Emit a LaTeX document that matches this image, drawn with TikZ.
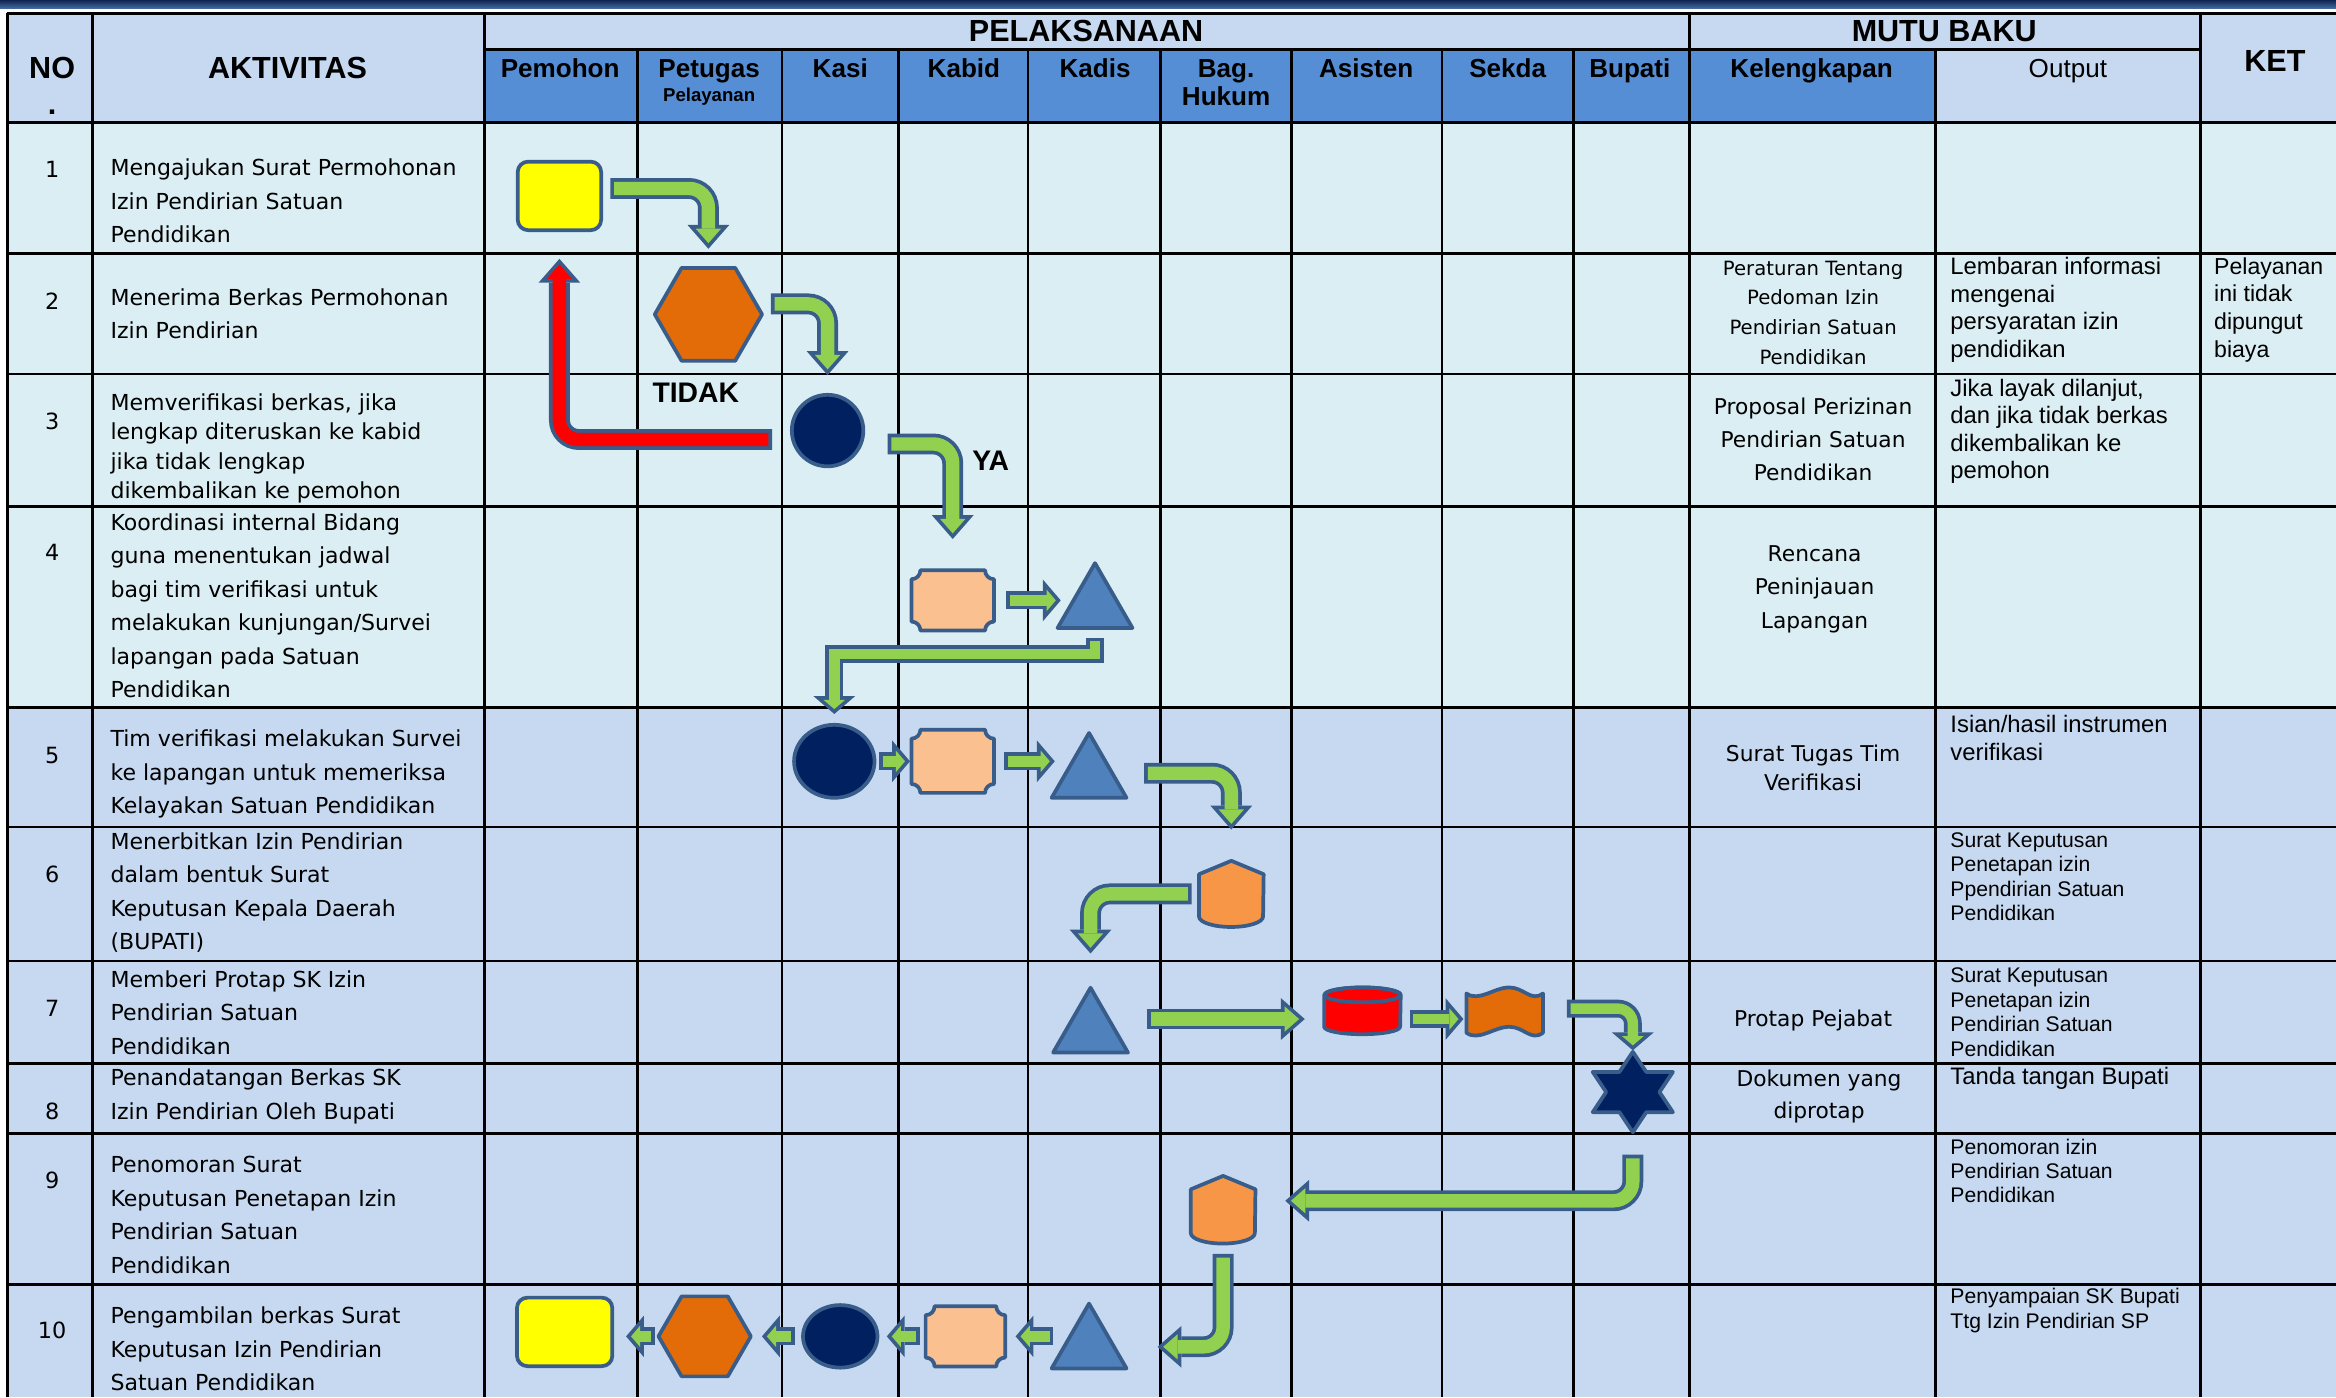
\documentclass[tikz,border=0pt]{standalone}
\usepackage{fontspec}
\setmainfont{DejaVu Sans}
\newfontfamily\arialfont{Liberation Sans}
\usetikzlibrary{shapes.geometric,arrows.meta,calc}

\definecolor{edgeblue}{HTML}{385D8A}
\definecolor{flowgreen}{HTML}{92D050}
\definecolor{docyellow}{HTML}{FFFF00}
\definecolor{darkorange}{HTML}{E36C09}
\definecolor{lightorange}{HTML}{F79646}
\definecolor{peach}{HTML}{FAC090}
\definecolor{navy}{HTML}{002060}
\definecolor{triblue}{HTML}{4F81BD}
\definecolor{hdrlight}{HTML}{C6D9F1}
\definecolor{hdrmid}{HTML}{558ED5}
\definecolor{rowcyan}{HTML}{DBEEF4}
\definecolor{rowblue}{HTML}{C6D9F1}
\definecolor{bandtop}{HTML}{0E2550}
\definecolor{bandbot}{HTML}{4A6FA5}

\tikzset{
  gridline/.style={line width=1.8pt, black},
  shp/.style={draw=edgeblue, line width=2.5pt, inner sep=0pt, line join=round},
  doc/.style={shp, rectangle, rounded corners=7pt, fill=docyellow},
  hexa/.style={shp, regular polygon, regular polygon sides=6, fill=darkorange},
  dot/.style={shp, ellipse, fill=navy},
  tri/.style={shp, regular polygon, regular polygon sides=3, fill=triblue, minimum size=58pt},
  shapebox/.style={rectangle, inner sep=0pt},
  bigflow out/.style={draw=edgeblue, line width=14pt, rounded corners=13pt,
    -{Triangle[length=16pt, width=28pt, line width=0pt]}},
  bigflow in/.style={line width=9pt, rounded corners=13pt, shorten <=2.5pt, shorten >=3.8pt,
    -{Triangle[length=9.7pt, width=17pt, line width=0pt]}},
  smallflow out/.style={draw=edgeblue, line width=12pt,
    -{Triangle[length=12pt, width=28pt, line width=0pt]}},
  smallflow in/.style={line width=7pt, shorten <=2.5pt, shorten >=3.3pt,
    -{Triangle[length=6.2pt, width=14.5pt, line width=0pt]}},
  hdr/.style={anchor=base, inner sep=0pt, font=\arialfont\bfseries\fontsize{20.5}{24}\selectfont},
  sub/.style={anchor=base, inner sep=0pt, font=\arialfont\bfseries\fontsize{17.5}{19}\selectfont},
  lbl/.style={anchor=base, inner sep=0pt, font=\arialfont\bfseries\fontsize{19}{22}\selectfont},
  num/.style={inner sep=0pt, font=\fontsize{15}{18}\selectfont},
  akt/.style={anchor=west, align=left, inner sep=0pt, font=\fontsize{14.8}{22.5}\selectfont},
  kel/.style={align=center, inner sep=0pt, font=\fontsize{14.6}{22}\selectfont},
  outp/.style={anchor=west, align=left, inner sep=0pt, font=\arialfont\fontsize{16}{18.7}\selectfont},
  outsmall/.style={outp, font=\arialfont\fontsize{14.2}{16.4}\selectfont}
}

% block arrow: outline first, then the fill
\newcommand{\flowarrow}[3][flowgreen]{%
  \draw[#2 out] #3;
  \draw[#2 in, draw=#1] #3;}

\newcommand{\plaque}[1]{%
  \draw[shp, fill=peach] ([xshift=6pt]#1.north west) -- ([xshift=-6pt]#1.north east)
    arc[start angle=180, end angle=270, radius=6pt] -- ([yshift=6pt]#1.south east)
    arc[start angle=90, end angle=180, radius=6pt] -- ([xshift=6pt]#1.south west)
    arc[start angle=0, end angle=90, radius=6pt] -- ([yshift=-6pt]#1.north west)
    arc[start angle=270, end angle=360, radius=6pt] -- cycle;}

\newcommand{\offpage}[1]{%
  \draw[shp, fill=lightorange] (#1.north) -- ([yshift=-9pt]#1.north west)
    -- ([yshift=7pt]#1.south west)
    arc[start angle=180, end angle=360, x radius=21.5pt, y radius=7pt]
    -- ([yshift=-9pt]#1.north east) -- cycle;}

\newcommand{\drum}[1]{%
  \draw[shp, fill=red] ([yshift=-5pt]#1.north west) -- ([yshift=5pt]#1.south west)
    arc[start angle=180, end angle=360, x radius=25.5pt, y radius=5pt]
    -- ([yshift=-5pt]#1.north east)
    arc[start angle=0, end angle=180, x radius=25.5pt, y radius=5pt] -- cycle;
  \draw[shp] ([yshift=-5pt]#1.north) ellipse[x radius=25.5pt, y radius=5pt];}

\newcommand{\tape}[1]{%
  \draw[shp, fill=darkorange] ([yshift=-4pt]#1.north west)
    .. controls +(8pt,-6pt) and +(-10pt,0pt) .. ([xshift=3pt]#1.north)
    .. controls +(10pt,0pt) and +(-8pt,-6pt) .. ([yshift=-4pt]#1.north east)
    -- ([yshift=4pt]#1.south east)
    .. controls +(-8pt,-6pt) and +(10pt,0pt) .. ([shift={(3pt,8pt)}]#1.south)
    .. controls +(-10pt,0pt) and +(8pt,-6pt) .. ([yshift=4pt]#1.south west) -- cycle;}

\newcommand{\hexstar}[1]{%
  \draw[shp, fill=navy, shift={(#1.center)}] (0pt,27pt) -- (-9pt,13.5pt) -- (-26.9pt,13.5pt)
    -- (-17.9pt,0pt) -- (-26.9pt,-13.5pt) -- (-9pt,-13.5pt) -- (0pt,-27pt) -- (9pt,-13.5pt)
    -- (26.9pt,-13.5pt) -- (17.9pt,0pt) -- (26.9pt,13.5pt) -- (9pt,13.5pt) -- cycle;}

\begin{document}
\begin{tikzpicture}[x=1pt, y=-1pt]
    \useasboundingbox (0,0) rectangle (1568,938);
    \fill[white] (0,0) rectangle (1568,938);

    % cell colours
    \shade[top color=bandtop, bottom color=bandbot] (0,0) rectangle (1568,6);
    \fill[hdrlight] (5,9) rectangle (1568,82);
    \fill[hdrmid] (325,33) rectangle (1299,82);
    \fill[rowcyan] (5,82) rectangle (1568,475);
    \fill[rowblue] (5,475) rectangle (1568,938);

    % table lines
    \foreach \y in {9,82,170,251,340,475,555,645,714,761,862}
        \draw[gridline] (5,\y) -- (1568,\y);
    \draw[gridline] (325,33) -- (1477,33);
    \foreach \x in {5,62,325,1134,1477}
        \draw[gridline] (\x,9) -- (\x,938);
    \foreach \x in {428,525,603,690,779,867,968,1056,1299}
        \draw[gridline] (\x,33) -- (\x,938);

    % header
    \node[hdr] (hno) at (35,53) {NO};
    \node[hdr] (hdot) at (35,77) {.};
    \node[hdr] (hakt) at (193,53) {AKTIVITAS};
    \node[hdr] (hpel) at (729,28) {PELAKSANAAN};
    \node[hdr] (hmutu) at (1305,28) {MUTU BAKU};
    \node[hdr] (hket) at (1527,48) {KET};
    \node[sub] (hpem) at (376,52) {Pemohon};
    \node[sub] (hpet) at (476,52) {Petugas};
    \node[sub, font=\arialfont\bfseries\fontsize{12.5}{14}\selectfont] (hpel2) at (476,68) {Pelayanan};
    \node[sub] (hkasi) at (564,52) {Kasi};
    \node[sub] (hkabid) at (647,52) {Kabid};
    \node[sub] (hkadis) at (735,52) {Kadis};
    \node[sub] (hbag) at (823,52) {Bag.};
    \node[sub] (hhuk) at (823,71) {Hukum};
    \node[sub] (hasis) at (917,52) {Asisten};
    \node[sub] (hsekda) at (1012,52) {Sekda};
    \node[sub] (hbup) at (1094,52) {Bupati};
    \node[sub] (hkel) at (1216,52) {Kelengkapan};
    \node[sub, font=\arialfont\fontsize{17.5}{19}\selectfont] (hout) at (1388,52) {Output};

    % numbers
    \foreach \i/\y in {1/114,2/202,3/283,4/371,5/507,6/587,7/677,8/746,9/792,10/893}
        \node[num] (n\i) at (35,\y) {\i};

    % activities
    \node[akt] (a1) at (74,135) {Mengajukan Surat Permohonan\\Izin Pendirian Satuan\\Pendidikan};
    \node[akt] (a2) at (74,210.5) {Menerima Berkas Permohonan\\Izin Pendirian};
    \node[akt, font=\fontsize{14.8}{19.5}\selectfont] (a3) at (74,301) {Memverifikasi berkas, jika\\lengkap diteruskan ke kabid\\jika tidak lengkap\\dikembalikan ke pemohon};
    \node[akt] (a4) at (74,406.5) {Koordinasi internal Bidang\\guna menentukan jadwal\\bagi tim verifikasi untuk\\melakukan kunjungan/Survei\\lapangan pada Satuan\\Pendidikan};
    \node[akt] (a5) at (74,519.5) {Tim verifikasi melakukan Survei\\ke lapangan untuk memeriksa\\Kelayakan Satuan Pendidikan};
    \node[akt] (a6) at (74,599) {Menerbitkan Izin Pendirian\\dalam bentuk Surat\\Keputusan Kepala Daerah\\(BUPATI)};
    \node[akt] (a7) at (74,679.5) {Memberi Protap SK Izin\\Pendirian Satuan\\Pendidikan};
    \node[akt] (a8) at (74,736) {Penandatangan Berkas SK\\Izin Pendirian Oleh Bupati};
    \node[akt] (a9) at (74,815.5) {Penomoran Surat\\Keputusan Penetapan Izin\\Pendirian Satuan\\Pendidikan};
    \node[akt] (a10) at (74,905.5) {Pengambilan berkas Surat\\Keputusan Izin Pendirian\\Satuan Pendidikan};

    % kelengkapan
    \node[kel, font=\fontsize{13.2}{20}\selectfont] (kl2) at (1217,210) {Peraturan Tentang\\Pedoman Izin\\Pendirian Satuan\\Pendidikan};
    \node[kel] (kl3) at (1217,295) {Proposal Perizinan\\Pendirian Satuan\\Pendidikan};
    \node[kel, font=\fontsize{14.6}{22.5}\selectfont] (kl4) at (1218,395.5) {Rencana\\Peninjauan\\Lapangan};
    \node[kel, font=\fontsize{14.6}{19}\selectfont] (kl5) at (1217,515.5) {Surat Tugas Tim\\Verifikasi};
    \node[kel] (kl7) at (1217,685) {Protap Pejabat};
    \node[kel] (kl8) at (1221,736) {Dokumen yang\\diprotap};

    % output
    \node[outp] (out2) at (1309,208) {Lembaran informasi\\mengenai\\persyaratan izin\\pendidikan};
    \node[outp, font=\arialfont\fontsize{16}{18.3}\selectfont] (out3) at (1309,289.5) {Jika layak dilanjut,\\dan jika tidak berkas\\dikembalikan ke\\pemohon};
    \node[outp] (out5) at (1309,495.5) {Isian/hasil instrumen\\verifikasi};
    \node[outsmall] (out6) at (1309,588.5) {Surat Keputusan\\Penetapan izin\\Ppendirian Satuan\\Pendidikan};
    \node[outsmall] (out7) at (1309,679.5) {Surat Keputusan\\Penetapan izin\\Pendirian Satuan\\Pendidikan};
    \node[outp] (out8) at (1309,724) {Tanda tangan Bupati};
    \node[outsmall] (out9) at (1309,786) {Penomoran izin\\Pendirian Satuan\\Pendidikan};
    \node[outsmall, font=\arialfont\fontsize{14.2}{16.8}\selectfont] (out10) at (1309,879.5) {Penyampaian SK Bupati\\Ttg Izin Pendirian SP};
    \node[outp, font=\arialfont\fontsize{15.5}{18.7}\selectfont] (ket2) at (1486,208) {Pelayanan\\ini tidak\\dipungut\\biaya};

    % flow symbols
    \node[doc, minimum width=56pt, minimum height=46pt] (sq1) at (375.5,131.5) {};
    \node[hexa, minimum size=72pt] (hex2) at (475.5,211) {};
    \node[dot, minimum width=48pt, minimum height=48pt] (c3) at (555.5,289) {};
    \node[shapebox, minimum width=55pt, minimum height=40pt] (pq4) at (639.5,403) {};
    \node[tri] (t4) at (735,407) {};
    \node[dot, minimum width=54pt, minimum height=49pt] (c5) at (560,511) {};
    \node[shapebox, minimum width=55pt, minimum height=42pt] (pq5) at (639.5,511) {};
    \node[tri] (t5) at (731,521) {};
    \node[shapebox, minimum width=43pt, minimum height=44pt] (o6) at (826.5,600) {};
    \node[tri] (t7) at (732,692) {};
    \node[shapebox, minimum width=51pt, minimum height=31pt] (cy7) at (914.5,678.5) {};
    \node[shapebox, minimum width=51pt, minimum height=34pt] (w7) at (1010,680) {};
    \node[shapebox, minimum width=54pt, minimum height=54pt] (st8) at (1096,733) {};
    \node[shapebox, minimum width=43pt, minimum height=45pt] (o9) at (821,812) {};
    \node[tri] (t10) at (731,904) {};
    \node[shapebox, minimum width=53pt, minimum height=40pt] (pq10) at (648,897) {};
    \node[dot, minimum width=50pt, minimum height=42pt] (e10) at (564,897) {};
    \node[hexa, minimum size=62pt] (h10) at (473,897) {};
    \node[doc, minimum width=64pt, minimum height=46pt] (sq10) at (379,894) {};
    \plaque{pq4} \plaque{pq5} \plaque{pq10}
    \offpage{o6} \offpage{o9}
    \drum{cy7} \tape{w7} \hexstar{st8}

    % arrows
    \flowarrow{bigflow}{([shift={(5pt,5pt)}]sq1.east) -| ([yshift=44pt]hex2.center)}
    \flowarrow{bigflow}{([shift={(42pt,7pt)}]hex2.center) -| ([yshift=12pt]c3.north)}
    \flowarrow[red]{bigflow}{([shift={(-12pt,-6pt)}]c3.west) -| ([yshift=-18pt]sq1.south)}
    \flowarrow{bigflow}{([shift={(15pt,-9pt)}]c3.east) -| ([yshift=21pt]pq4.north)}
    \flowarrow{smallflow}{([xshift=8pt]pq4.east) -- ([shift={(-23pt,4pt)}]t4.center)}
    \flowarrow{smallflow}{([yshift=-21pt]t4.center) -- ++(0,-11pt) -| ([yshift=6pt]c5.north)}
    \flowarrow{smallflow}{([xshift=2pt]c5.east) -- ([xshift=-1pt]pq5.west)}
    \flowarrow{smallflow}{([xshift=7pt]pq5.east) -- ([shift={(-23pt,10pt)}]t5.center)}
    \flowarrow{bigflow}{([shift={(37pt,2pt)}]t5.center) -| ([yshift=21pt]o6.north)}
    \flowarrow{bigflow}{([xshift=-5pt]o6.west) -| ([yshift=52pt]t7.center)}
    \flowarrow{bigflow}{([shift={(38pt,8pt)}]t7.center) -- ([shift={(-13pt,-5.5pt)}]cy7.west)}
    \flowarrow{smallflow}{([shift={(6pt,-5.5pt)}]cy7.east) -- ([shift={(-2pt,-4pt)}]w7.west)}
    \flowarrow{smallflow}{[rounded corners=10pt] ([shift={(16pt,3pt)}]w7.east) -| ([yshift=28pt]st8.center)}
    \flowarrow{bigflow}{([yshift=-42pt]st8.center) |- ([shift={(20pt,6pt)}]o9.east)}
    \flowarrow{bigflow}{([yshift=-7pt]o9.south) |- ([xshift=46pt]t10.center)}
    \flowarrow{smallflow}{([shift={(-24pt,7pt)}]t10.center) -- ([xshift=7pt]pq10.east)}
    \flowarrow{smallflow}{([xshift=-4pt]pq10.west) -- ([xshift=5pt]e10.east)}
    \flowarrow{smallflow}{([xshift=-4pt]e10.west) -- ([xshift=6pt]h10.east)}
    \flowarrow{smallflow}{([xshift=-1pt]h10.west) -- ([shift={(8pt,-3pt)}]sq10.east)}

    % decision labels
    \node[lbl] (tidak) at (467,270) {TIDAK};
    \node[lbl] (ya) at (665,316) {YA};
\end{tikzpicture}
\end{document}
